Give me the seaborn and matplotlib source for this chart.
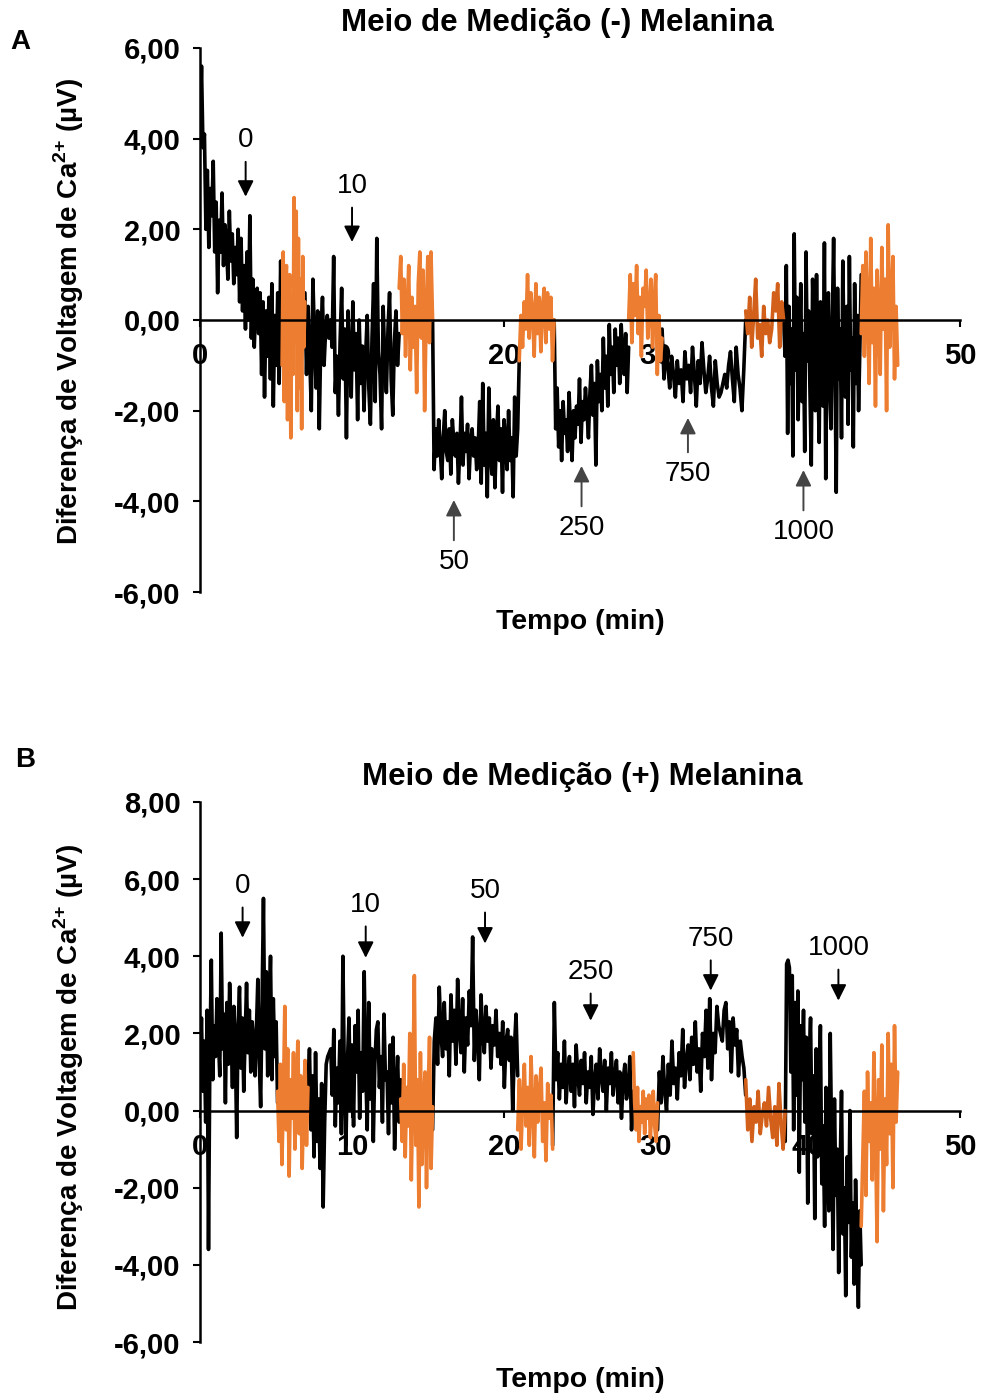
import numpy as np
import pandas as pd
import matplotlib
matplotlib.use("Agg")
import matplotlib.pyplot as plt
from matplotlib.ticker import FuncFormatter, MultipleLocator
import seaborn as sns

# ---- Painel A: Meio de Medição (-) Melanina (µV) ----
a_preto_1 = [4.2, 5.6, 3.8, 4.1, 2.0, 3.3, 1.6, 2.9, 2.3, 3.5, 1.5, 2.6, 0.6, 2.2, 1.5, 2.8,
             1.2, 2.1, 1.7, 0.9, 2.4, 1.3, 1.9, 0.8, 1.6, 1.0, 2.0, 0.4, 1.8, 0.2, 1.2, -0.2,
             1.5, 0.0, 2.3, -0.4, 0.9, -0.6, 0.3, 0.7, -0.3, 0.6, -1.2, 0.4, -1.7, 0.2, -0.8,
             0.5, -1.3, 0.8, -1.9, 0.1, -1.0, 0.6, -1.4, 1.3, -0.5]
a_laranja_1 = [-1.0, 1.5, -1.8, 0.8, 1.2, -2.2, 0.3, 1.0, -2.6, 0.5, -1.2, 2.7, -0.5, 2.4,
               -2.0, 1.8, -1.5, 0.9, -2.4, 1.4, -0.6, 0.4]
a_preto_2 = [0.6, -1.2, 0.3, -0.8, -2.0, 0.9, -0.4, -1.5, 0.2, -2.4, -0.3, 0.5, -1.0, -0.2,
             0.1, -0.4, 0.0, -0.6, 1.4, -1.6, -0.8, -2.1, -0.5, 0.7, -1.3, -0.2, -2.6, 0.2,
             -0.9, -1.7, 0.4, -1.1, -0.3, -2.2, 0.0, -1.4, -0.6, -2.0, -0.8, 0.1, -1.5, -2.3,
             -0.4, 0.8, -1.8, 1.8, -0.7, -1.2, -2.4, 0.3, -0.9, -1.6, -0.2, 0.6, -1.3, -2.1,
             -0.5, 0.2, -1.0, -0.3]
a_laranja_2 = [0.7, 1.4, -0.3, 0.9, -0.8, 0.2, 1.2, -1.1, 0.5, -0.6, 0.3, -1.6, 0.8, 1.5,
               -0.4, 1.1, -2.0, 0.2, 1.4, -0.5, 1.5, 0.0]
a_preto_3 = [0.0, -3.3, -2.4, -3.0, -2.2, -2.8, -3.5, -2.6, -2.0, -2.9, -3.1, -2.4, -3.4,
             -2.2, -2.7, -3.0, -2.5, -3.6, -2.8, -1.7, -3.2, -2.5, -2.9, -2.3, -3.5, -2.7,
             -2.4, -3.0, -2.6, -3.3, -2.8, -1.8, -3.6, -1.4, -3.2, -2.5, -3.9, -1.5, -2.9,
             -3.4, -2.2, -3.7, -2.6, -1.9, -3.1, -2.4, -3.8, -2.2, -2.7, -3.3, -2.0, -3.1,
             -2.6, -3.9, -1.7, -3.0, -2.4, -0.9]
a_laranja_3 = [-0.9, 0.1, -0.6, 0.4, -0.2, 1.0, -0.4, 0.6, 0.2, -0.8, 0.8, -0.3, 0.5, -0.7,
               0.3, 0.7, -0.5, 0.6, -0.2, 0.5, -0.9, 0.0]
a_preto_4 = [0.0, -2.4, -1.5, -2.8, -2.0, -3.1, -1.8, -2.5, -2.2, -2.9, -1.6, -2.4, -3.1,
             -2.0, -2.6, -1.9, -2.3, -1.3, -2.7, -1.8, -2.2, -1.5, -2.0, -2.6, -1.6, -1.0,
             -2.1, -1.4, -3.2, -0.9, -1.8, -1.2, -2.0, -0.4, -1.5, -0.8, -1.9, -0.1, -1.2,
             -0.6, -1.6, -0.2, -1.0, -0.4, -1.4, -0.1, -0.8, -1.2, -0.3, -1.6, -0.6]
a_laranja_4 = [0.0, 1.0, -0.5, 0.8, 0.1, 1.2, -0.3, 0.5, -0.8, 0.7, 0.3, 1.1, -0.4, 0.2, 0.9,
               -0.6, 0.4, 1.0, -1.2, 0.1, -0.9, -0.4]
a_preto_5 = [-0.2, -1.3, -0.6, -1.0, -1.5, -0.8, -1.2, -1.7, -0.9, -1.4, -1.1, -1.8, -0.7,
             -1.3, -1.0, -1.6, -0.6, -1.2, -1.9, -0.9, -1.4, -0.5, -1.1, -1.6, -1.3, -0.8,
             -1.5, -1.9, -0.9, -1.4, -1.7, -1.6, -1.4, -1.2, -1.5, -1.0, -0.7, -1.3, -1.8,
             -0.6, -1.2, -1.5, -2.0, -1.1, 0.0]
a_escuro_5 = [0.2, -0.3, 0.5, -0.6, 0.1, 0.9, -0.4, -0.1, -0.8, 0.3, -0.3, 0.0, -0.5, -0.2,
              0.6, 0.2, 0.8, -0.6, 0.4, 0.0]
a_preto_6 = [0.0, -0.8, 1.2, -2.5, 0.3, -1.4, -0.2, -3.0, 1.9, -1.1, 0.5, -2.2, -0.6, 0.8,
             -1.8, -0.3, -2.9, 1.5, -0.9, 0.2, -1.6, -3.2, 0.9, -0.4, -2.0, 1.0, -1.2, -2.7,
             0.4, -0.7, -1.9, 1.7, -3.5, -0.5, 0.6, -1.5, -2.4, 0.0, 1.8, -1.0, -3.8, 0.7,
             -1.3, -0.2, -2.6, 1.3, -0.8, -1.7, 0.3, -2.3, 1.4, -1.1, -0.4, -2.8, 0.8, -1.4,
             0.1, -2.0, -0.6, 1.0]
a_laranja_6 = [-0.3, 1.2, -0.8, 1.5, 0.2, -1.4, 1.8, -0.5, 0.7, -1.9, 1.1, 0.0, -1.2, 1.6,
               -0.2, 0.9, -2.0, 2.1, -0.6, 0.5, 1.4, -1.3, 0.3, -1.0]

# ---- Painel B: Meio de Medição (+) Melanina ----
b_preto_1 = [1.0, 2.4, 0.5, 1.8, -0.3, 2.6, -3.6, 1.5, 3.9, 0.8, 2.2, 1.4, 2.9, 1.9, 0.9,
             4.6, 1.6, 2.5, 0.2, 2.8, 1.2, 3.3, 2.0, 0.6, 2.7, 1.7, -0.7, 2.2, 3.2, 1.1, 2.4,
             0.5, 1.9, 3.3, 1.5, 2.6, 1.0, 2.3, 1.8, 0.9, 2.1, 3.4, 1.3, 0.1, 2.8, 5.5, 1.6,
             3.6, 0.9, 2.5, 4.0, 0.8, 2.9, 1.4, 2.3, 0.2]
b_laranja_1 = [0.5, -0.8, 1.2, -1.4, 0.3, 2.7, -0.5, 1.6, -1.7, 0.8, -0.2, 1.5, -1.0, 0.4,
               1.8, -0.6, 0.9, -1.5, 0.2, 1.3, -0.9, 0.6]
b_preto_2 = [0.6, 1.6, -0.5, 0.9, -1.2, 1.5, -0.8, 0.3, -1.5, 0.7, -2.5, -0.3, 1.2, 1.4, 1.5,
             1.6, 0.4, 2.1, -0.4, 1.1, 0.2, 1.8, -0.6, 4.0, 0.7, -0.9, 1.3, 2.4, 0.0, 1.7,
             -0.4, 2.2, 1.0, 2.6, -0.2, 1.5, 0.5, 3.6, 1.1, -0.5, 2.8, 0.3, 1.6, -0.8, 1.2,
             2.1, 2.3, 0.6, 1.4, -0.3, 2.5, 0.8, 1.0, -0.6, 1.7, 0.2, 1.9, -1.0, 0.5, 1.4,
             -0.3, 0.8]
b_laranja_2 = [0.3, -0.8, 1.2, -1.2, 0.6, -0.4, 2.0, -1.8, 0.5, 3.5, -0.9, 0.8, -2.5, 1.5,
               -1.4, 0.2, 1.0, -2.0, 0.4, 1.9, -1.5, 0.1]
b_preto_3 = [-0.5, 1.8, 2.4, 1.2, 3.2, 2.0, 1.4, 2.8, 1.6, 2.3, 0.9, 3.0, 1.8, 2.6, 1.2, 3.4,
             2.1, 1.5, 2.9, 1.0, 2.4, 1.7, 3.1, 2.2, 4.5, 1.3, 2.6, 1.9, 0.8, 3.0, 2.0, 1.5,
             2.7, 1.8, 2.4, 1.1, 2.2, 1.7, 2.6, 1.4, 2.0, 1.2, 2.3, 0.6, 1.8, 2.1, 1.3, 1.9,
             0.0, 1.6, 2.5, 0.9]
b_laranja_3 = [-0.5, 0.8, -1.0, 0.3, 1.2, -0.4, 0.6, -0.9, 1.4, 0.1, -1.2, 0.9, -0.3, 0.5,
               1.1, -0.8, 0.2, -1.3, 0.7, -0.2, 0.4, -1.0]
b_preto_4 = [-0.9, 2.8, 0.8, 1.5, 0.3, 1.2, 0.6, 1.8, 0.2, 1.0, 1.4, 0.5, 1.2, 0.1, 1.7, 0.9,
             0.4, 1.3, 0.7, 1.5, 0.2, 1.0, 0.6, 1.4, -0.1, 0.8, 1.2, 0.3, 1.6, 0.9, 0.5, 1.3,
             0.0, 1.1, 0.7, 1.5, 0.4, 0.9, 1.3, 0.2, 1.0, -0.2, 0.8, 1.2, 0.3, 0.6, 1.4,
             -0.5, 0.5]
b_laranja_4 = [1.5, 0.2, -0.5, 0.6, -0.8, 0.1, -0.3, 0.5, -0.6, 0.3, -0.2, 0.4, -0.7, 0.0,
               0.5, -0.4, -0.8, 0.2]
b_preto_5 = [-0.5, 1.0, 0.2, 1.4, 0.5, 0.0, 1.2, 0.4, 1.8, 0.7, 1.1, 0.3, 1.5, 0.9, 2.1, 0.6,
             1.3, 1.7, 0.8, 1.9, 1.2, 2.3, 1.0, 1.6, 0.5, 2.0, 1.4, 2.6, 1.1, 2.9, 0.8, 2.0,
             1.5, 2.7, 2.2, 2.0, 1.8, 2.6, 2.8, 1.6, 2.3, 1.0, 2.4, 1.7, 2.1, 0.9, 1.8, 1.4,
             1.1, 0.4]
b_escuro_5 = [0.8, -0.5, 0.3, -0.8, 0.1, -0.3, 0.5, -0.6, -0.1, 0.2, -0.4, 0.6, -0.2, -0.7,
              0.1, -0.9, 0.7, -0.3, -1.0, 0.0]
b_preto_6 = [-0.8, 3.8, 3.9, 3.7, 1.0, 3.5, -0.5, 2.8, 0.4, 3.1, -1.6, 2.2, 0.8, 2.6, -0.3,
             1.9, -2.4, 1.2, 2.4, -0.6, 0.9, -2.8, 1.6, -1.2, 0.2, 2.2, -1.9, -0.4, -3.0, 0.6,
             -1.5, -2.6, 2.0, -0.8, -3.6, 0.3, -2.2, -1.0, -4.2, -1.6, 0.5, -3.2, -2.0, -4.8,
             -1.2, -2.9, 0.0, -3.8, -2.4, -4.5, -1.8, -3.4, -5.1, -2.6, -4.0]
b_laranja_6 = [-3.0, -1.2, 0.5, -2.2, 1.0, -0.8, 0.2, -1.8, 1.5, -0.5, -3.4, 0.8, -1.0, 1.7,
               -2.6, 0.3, -1.4, 2.0, -0.6, 1.2, -2.0, 2.2, -0.3, 1.0]

# inicio e fim de cada trecho (min)
trechos_a = [(0.0, 5.4, "registro", a_preto_1), (5.4, 6.9, "lavagem", a_laranja_1),
             (6.9, 13.1, "registro", a_preto_2), (13.1, 15.3, "lavagem", a_laranja_2),
             (15.3, 21.0, "registro", a_preto_3), (21.0, 23.3, "lavagem", a_laranja_3),
             (23.3, 28.2, "registro", a_preto_4), (28.2, 30.4, "lavagem", a_laranja_4),
             (30.4, 35.9, "registro", a_preto_5), (35.9, 38.4, "lavagem2", a_escuro_5),
             (38.4, 43.5, "registro", a_preto_6), (43.5, 45.9, "lavagem", a_laranja_6)]
trechos_b = [(0.0, 5.1, "registro", b_preto_1), (5.1, 7.1, "lavagem", b_laranja_1),
             (7.1, 13.2, "registro", b_preto_2), (13.2, 15.3, "lavagem", b_laranja_2),
             (15.3, 20.9, "registro", b_preto_3), (20.9, 23.2, "lavagem", b_laranja_3),
             (23.2, 28.5, "registro", b_preto_4), (28.5, 30.1, "lavagem", b_laranja_4),
             (30.1, 35.9, "registro", b_preto_5), (35.9, 38.5, "lavagem2", b_escuro_5),
             (38.5, 43.5, "registro", b_preto_6), (43.5, 45.9, "lavagem", b_laranja_6)]

# concentrações adicionadas (rótulo, tempo, posição do texto, ponta da seta)
conc = ["0", "10", "50", "250", "750", "1000"]
seta_t_a = [3.0, 10.0, 16.7, 25.1, 32.1, 39.7]
texto_v_a = [3.97, 2.96, -5.34, -4.59, -3.40, -4.68]
ponta_v_a = [2.72, 1.72, -3.97, -3.22, -2.16, -3.31]
seta_t_b = [2.8, 10.9, 18.75, 25.7, 33.6, 42.0]
texto_v_b = [5.83, 5.34, 5.70, 3.60, 4.46, 4.22]
ponta_v_b = [4.48, 3.96, 4.33, 2.33, 3.11, 2.85]

cores = {"registro": "black", "lavagem": "#ED7D31", "lavagem2": "#D2601A"}


def monta_df(trechos):
    partes = []
    for i, (t0, t1, fase, vals) in enumerate(trechos):
        partes.append(pd.DataFrame({"tempo": np.linspace(t0, t1, len(vals)),
                                    "voltagem": vals, "trecho": i, "fase": fase}))
    return pd.concat(partes, ignore_index=True)


sns.set_style("white")
plt.rcParams["font.family"] = ["Liberation Sans", "DejaVu Sans"]
plt.rcParams["mathtext.fontset"] = "custom"
plt.rcParams["mathtext.rm"] = "Liberation Sans"
plt.rcParams["mathtext.bf"] = "Liberation Sans:bold"
for k in ["text.color", "axes.labelcolor", "xtick.color", "ytick.color"]:
    plt.rcParams[k] = "black"

fig = plt.figure(figsize=(9.83, 13.94), dpi=100)
ax_a = fig.add_axes([0.2035, 0.5753, 0.7731, 0.3903])
ax_b = fig.add_axes([0.2035, 0.0373, 0.7731, 0.3874])

paineis = [
    (ax_a, trechos_a, "Meio de Medição (-) Melanina", (-6, 6), 0.47, -0.031, 0.515,
     seta_t_a, texto_v_a, ponta_v_a),
    (ax_b, trechos_b, "Meio de Medição (+) Melanina", (-6, 8), 0.503, -0.046, 0.49,
     seta_t_b, texto_v_b, ponta_v_b),
]

for ax, trechos, titulo, ylim, tx, xl_y, yl_y, st, tv, pv in paineis:
    df = monta_df(trechos)
    sns.lineplot(data=df, x="tempo", y="voltagem", hue="fase", units="trecho",
                 estimator=None, sort=False, palette=cores, lw=2.6, legend=False, ax=ax)

    ax.set_xlim(0, 50)
    ax.set_ylim(*ylim)
    ax.xaxis.set_major_locator(MultipleLocator(10))
    ax.yaxis.set_major_locator(MultipleLocator(2))
    ax.yaxis.set_major_formatter(FuncFormatter(lambda v, p: f"{v:.2f}".replace(".", ",")))

    for s in ["top", "right"]:
        ax.spines[s].set_visible(False)
    ax.spines["bottom"].set_position(("data", 0))
    for s in ["left", "bottom"]:
        ax.spines[s].set_color("black")
        ax.spines[s].set_linewidth(1.8)

    ax.tick_params(axis="both", direction="out", length=5, width=1.5, color="black",
                   labelsize=21, left=True, bottom=True)
    ax.tick_params(axis="y", pad=9)
    ax.tick_params(axis="x", pad=11)
    for lab in ax.get_xticklabels() + ax.get_yticklabels():
        lab.set_fontweight("bold")

    ax.set_title(titulo, fontsize=22.5, fontweight="bold", x=tx, pad=12)
    ax.set_xlabel("Tempo (min)", fontsize=20.5, fontweight="bold")
    ax.xaxis.set_label_coords(0.5, xl_y)
    ax.set_ylabel(r"Diferença de Voltagem de Ca$^{\mathbf{2{+}}}$ (µV)",
                  fontsize=20, fontweight="bold")
    ax.yaxis.set_label_coords(-0.15, yl_y)

    for rot, t, yt, yp in zip(conc, st, tv, pv):
        cor_seta = "black" if yt > yp else "#444444"
        ax.annotate(rot, xy=(t, yp), xytext=(t, yt), ha="center", va="center",
                    fontsize=20, color="black",
                    arrowprops=dict(arrowstyle="-|>", color=cor_seta, lw=1.4,
                                    mutation_scale=24, shrinkA=4, shrinkB=0))

fig.text(0.010, 0.970, "A", fontsize=20, fontweight="bold", ha="left", va="center")
fig.text(0.015, 0.455, "B", fontsize=20, fontweight="bold", ha="left", va="center")

fig.savefig("out.png", dpi=100)
